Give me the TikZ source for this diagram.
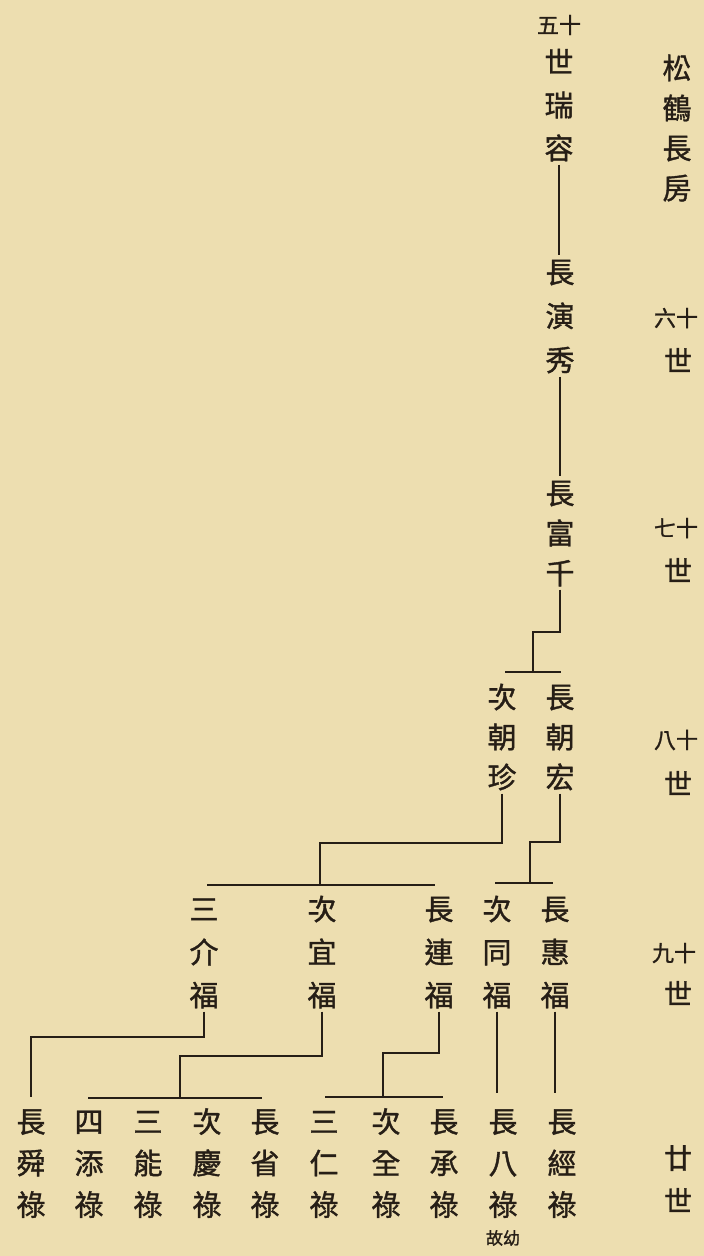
\documentclass[tikz,border=0pt]{standalone}
\usepackage{fontspec}
\newfontfamily\cjk[FakeBold=1.2]{Noto Sans CJK TC}
\definecolor{paper}{RGB}{237,222,176}
\definecolor{ink}{RGB}{38,30,22}
\newcommand\cs{\rule[-0.12em]{0pt}{1em}}
\newcommand\tri[3]{#1\cs\\#2\cs\\#3\cs}
\tikzset{
  person/.style={inner sep=2pt, align=center, text=ink,
    font=\fontsize{29pt}{#1}\selectfont\cjk},
  person/.default=42pt,
  genlbl/.style={inner sep=0pt, text=ink, font=\fontsize{28pt}{28pt}\selectfont\cjk},
  numlbl/.style={inner sep=0pt, text=ink, font=\fontsize{22pt}{22pt}\selectfont\cjk},
  notelbl/.style={inner sep=0pt, text=ink, font=\fontsize{17pt}{17pt}\selectfont\cjk},
  conn/.style={draw=ink, line width=1.8pt},
}
\begin{document}
\begin{tikzpicture}[x=1pt,y=-1pt]
\fill[paper] (0,0) rectangle (704,1256);
\useasboundingbox (0,0) rectangle (704,1256);

% house title and generation labels
\node[person=40pt] (house) at (677,128) {松\cs\\鶴\cs\\長\cs\\房\cs};
\node[numlbl] (g6a) at (676,318) {六十};
\node[genlbl] (g6b) at (678,360) {世};
\node[numlbl] (g7a) at (676,528) {七十};
\node[genlbl] (g7b) at (678,570) {世};
\node[numlbl] (g8a) at (676,740) {八十};
\node[genlbl] (g8b) at (678,783) {世};
\node[numlbl] (g9a) at (674,953) {九十};
\node[genlbl] (g9b) at (678,993) {世};
\node[genlbl] (g10a) at (678,1158) {廿};
\node[genlbl] (g10b) at (678,1200) {世};

% 5th generation
\node[numlbl] (g5a) at (559,25) {五十};
\node[person=43pt] (rr) at (559,105) {\tri{世}{瑞}{容}};
% 6th, 7th
\node[person=44pt] (yx) at (560,316) {\tri{長}{演}{秀}};
\node[person=40pt] (fq) at (560,533) {\tri{長}{富}{千}};
% 8th
\node[person=40pt] (ch) at (560,737) {\tri{長}{朝}{宏}};
\node[person=40pt] (cz) at (502,737) {\tri{次}{朝}{珍}};
% 9th
\node[person=43pt] (hf) at (555,952) {\tri{長}{惠}{福}};
\node[person=43pt] (tf) at (497,952) {\tri{次}{同}{福}};
\node[person=43pt] (lf) at (439,952) {\tri{長}{連}{福}};
\node[person=43pt] (yf) at (322,952) {\tri{次}{宜}{福}};
\node[person=43pt] (jf) at (204,952) {\tri{三}{介}{福}};
% 10th
\node[person=41.5pt] (sh) at (31,1163) {\tri{長}{舜}{祿}};
\node[person=41.5pt] (ti) at (89,1163) {\tri{四}{添}{祿}};
\node[person=41.5pt] (nl) at (148,1163) {\tri{三}{能}{祿}};
\node[person=41.5pt] (ql) at (207,1163) {\tri{次}{慶}{祿}};
\node[person=41.5pt] (xl) at (265,1163) {\tri{長}{省}{祿}};
\node[person=41.5pt] (rl) at (324,1163) {\tri{三}{仁}{祿}};
\node[person=41.5pt] (ql2) at (386,1163) {\tri{次}{全}{祿}};
\node[person=41.5pt] (cl) at (444,1163) {\tri{長}{承}{祿}};
\node[person=41.5pt] (bl) at (503,1163) {\tri{長}{八}{祿}};
\node[person=41.5pt] (jl) at (562,1163) {\tri{長}{經}{祿}};
\node[notelbl] (note) at (503,1238) {故幼};

% junction coordinates
\coordinate (j7) at (533,632);
\coordinate (b7) at (533,672);
\coordinate (b7l) at (505,672);
\coordinate (b7r) at (561,672);

\coordinate (j8a) at (530,842);
\coordinate (b8a) at (530,883);
\coordinate (b8al) at (495,883);
\coordinate (b8ar) at (553,883);

\coordinate (j8b) at (320,843);
\coordinate (b8b) at (320,885);
\coordinate (b8bl) at (207,885);
\coordinate (b8br) at (435,885);

\coordinate (j9l) at (383,1053);
\coordinate (b9l) at (383,1097);
\coordinate (b9ll) at (325,1097);
\coordinate (b9lr) at (443,1097);

\coordinate (j9y) at (180,1056);
\coordinate (b9y) at (180,1098);
\coordinate (b9yl) at (88,1098);
\coordinate (b9yr) at (262,1098);

\coordinate (j9j) at (31,1037);

% connectors
\draw[conn] (rr.south) -- (rr.south |- yx.north);
\draw[conn] (yx.south) -- (fq.north);
\draw[conn] (fq.south) |- (j7) -- (b7);
\draw[conn] (b7l) -- (b7r);

\draw[conn] (ch.south) |- (j8a) -- (b8a);
\draw[conn] (b8al) -- (b8ar);
\draw[conn] (cz.south) |- (j8b) -- (b8b);
\draw[conn] (b8bl) -- (b8br);

\draw[conn, shorten >=12pt] (hf.south) -- (hf.south |- jl.north);
\draw[conn, shorten >=12pt] (tf.south) -- (tf.south |- bl.north);
\draw[conn] (lf.south) |- (j9l) -- (b9l);
\draw[conn] (b9ll) -- (b9lr);
\draw[conn] (yf.south) |- (j9y) -- (b9y);
\draw[conn] (b9yl) -- (b9yr);
\draw[conn, shorten >=8pt] (jf.south) |- (j9j) -- (sh.north);
\end{tikzpicture}
\end{document}
